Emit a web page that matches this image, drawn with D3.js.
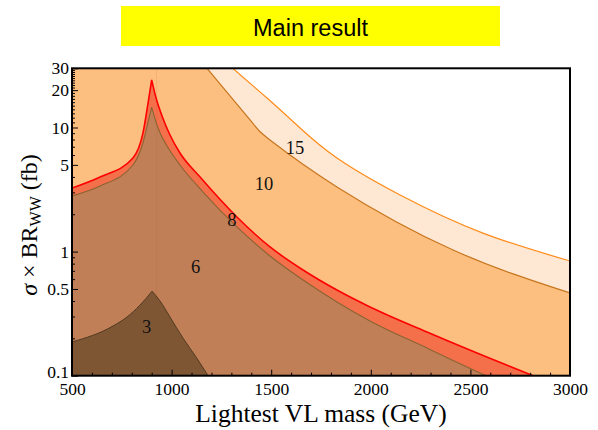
<!DOCTYPE html>
<html>
<head>
<meta charset="utf-8">
<script src="https://cdn.jsdelivr.net/npm/d3@7"></script>
<style>
  body { margin: 0; background: #fff; }
  svg { display: block; }
</style>
</head>
<body>
<div id="chart"></div>
<script>
// Curves as [mass (GeV), sigma x BR (fb)].
const curve15 = [[1200, 45], [1308, 30], [1479, 17.3], [1645, 9.91], [1830, 5.68],
                 [2147, 2.86], [2563, 1.41], [3000, 0.84]];
const curve10 = [[1100, 44], [1178, 30], [1394, 11.5], [1494, 7.93], [1830, 3.32],
                 [2413, 1.03], [3000, 0.464]];
const curve8 = [[500, 3.25], [641, 3.99], [806, 5.68], [856, 9.0], [882, 15.8], [900, 24.2],
                [922, 17.3], [952, 12.4], [992, 8.7], [1042, 6.23], [1143, 3.99], [1328, 1.9],
                [1494, 1.09], [1660, 0.711], [1830, 0.49], [1996, 0.358], [2282, 0.225],
                [2613, 0.135], [2814, 0.1]];
const curve6 = [[500, 2.81], [641, 3.38], [806, 4.99], [856, 7.5], [882, 11.1], [900, 14.6],
                [917, 11.7], [942, 9.03], [977, 7.1], [1042, 4.99], [1158, 3.02], [1328, 1.58],
                [1494, 0.922], [1660, 0.59], [1830, 0.393], [1996, 0.276], [2282, 0.167],
                [2448, 0.125], [2578, 0.1]];
const curve3 = [[500, 0.187], [706, 0.2515], [776, 0.297], [841, 0.37], [902, 0.48],
                [942, 0.4], [992, 0.297], [1057, 0.201], [1122, 0.142], [1183, 0.1]];

const bandLabels = ["15", "10", "8", "6", "3"];
const labelMass = [1620, 1464, 1303, 1120, 874];
const labelSigma = [6.1, 3.14, 1.61, 0.672, 0.221];

const xTicks = [500, 1000, 1500, 2000, 2500, 3000];
const yTicks = [0.1, 0.5, 1, 5, 10, 20, 30];
const seamMass = 925;

const width = 598, height = 430;
const plotLeft = 72, plotRight = 570, plotTop = 68.3, plotBottom = 375.7;
const serif = '"Liberation Serif", "DejaVu Serif", serif';

const x = d3.scaleLinear([500, 3000], [plotLeft, plotRight]);
const y = d3.scaleLog([0.1, 30], [plotBottom, plotTop]);

const svg = d3.select("#chart").append("svg")
    .attr("width", width)
    .attr("height", height);

// Title box
svg.append("rect")
    .attr("x", 121).attr("y", 6)
    .attr("width", 379).attr("height", 40)
    .attr("fill", "#ffff00");
svg.append("text")
    .attr("x", 310.5).attr("y", 36)
    .attr("text-anchor", "middle")
    .attr("font-family", '"Liberation Sans", Arial, sans-serif')
    .attr("font-size", 23.5)
    .text("Main result");

svg.append("defs").append("clipPath").attr("id", "plot-clip")
    .append("rect")
    .attr("x", plotLeft).attr("y", plotTop)
    .attr("width", plotRight - plotLeft).attr("height", plotBottom - plotTop);

function makeLine(curve) {
    return d3.line()
        .x(d => x(d[0]))
        .y(d => y(d[1]))
        .curve(curve);
}

// top boundary path; peaked curves are split at the maximum to keep the cusp
function edge(points, curve) {
    const line = makeLine(curve);
    let iMax = d3.maxIndex(points, d => d[1]);
    if (iMax === 0 || iMax === points.length - 1) return line(points);
    const l = line(points.slice(0, iMax + 1));
    const r = line(points.slice(iMax)).replace(/^M[^LC]*/, "");
    return l + r;
}

function areaPath(d) {
    const points = d.pts;
    const first = points[0], last = points[points.length - 1];
    let p = "";
    if (first[0] > 500) {
        p = `M${x(500)},${plotTop - 40}L` + edge(points, d.curve).slice(1);
    } else {
        p = edge(points, d.curve);
    }
    return p + `L${x(last[0])},${plotBottom + 5}L${x(500)},${plotBottom + 5}Z`;
}

const layers = [
    { pts: curve15, curve: d3.curveNatural, fill: "#fee8d3", stroke: "#ff8c1a", sw: 1.2 },
    { pts: curve10, curve: d3.curveNatural, fill: "#fdbf7f", stroke: "#c8761e", sw: 1.2 },
    { pts: curve8,  curve: d3.curveMonotoneX, fill: "#f4704b", stroke: "#ff0000", sw: 1.6 },
    { pts: curve6,  curve: d3.curveMonotoneX, fill: "#c17f57", stroke: "#8a6432", sw: 1.1 },
    { pts: curve3,  curve: d3.curveMonotoneX, fill: "#7f5634", stroke: "#4f3a22", sw: 1.0 }
];

const plot = svg.append("g").attr("clip-path", "url(#plot-clip)");

plot.selectAll("path.band")
    .data(layers)
    .join("path")
    .attr("class", "band")
    .attr("d", d => areaPath(d))
    .attr("fill", d => d.fill)
    .attr("stroke", "none");

plot.append("line")
    .attr("x1", x(seamMass)).attr("x2", x(seamMass))
    .attr("y1", plotTop).attr("y2", plotBottom)
    .attr("stroke", "#a0522d")
    .attr("stroke-opacity", 0.12)
    .attr("stroke-width", 1);

plot.selectAll("path.edge")
    .data(layers)
    .join("path")
    .attr("class", "edge")
    .attr("d", d => edge(d.pts, d.curve))
    .attr("fill", "none")
    .attr("stroke", d => d.stroke)
    .attr("stroke-width", d => d.sw);

// band labels
svg.append("g")
    .selectAll("text")
    .data(bandLabels)
    .join("text")
    .attr("x", (d, i) => x(labelMass[i]))
    .attr("y", (d, i) => y(labelSigma[i]))
    .attr("text-anchor", "middle")
    .attr("font-family", serif)
    .attr("font-size", 18.5)
    .attr("fill", "#111")
    .text(d => d);

// axes (ticks point inward)
const xMinor = d3.range(600, 3000, 100).filter(v => v % 500 !== 0);
const yMinor = [0.2, 0.3, 0.4, 0.6, 0.7, 0.8, 0.9, 2, 3, 4, 6, 7, 8, 9]
    .concat(d3.range(11, 30).filter(v => v !== 20));

svg.append("g")
    .attr("transform", `translate(0,${plotBottom})`)
    .call(d3.axisBottom(x).tickValues(xTicks).tickSize(-6).tickPadding(7).tickFormat(d3.format("d")));
svg.append("g")
    .attr("transform", `translate(0,${plotBottom})`)
    .call(d3.axisBottom(x).tickValues(xMinor).tickSize(-3).tickFormat(""));

const yAxis = svg.append("g")
    .attr("transform", `translate(${plotLeft},0)`)
    .call(d3.axisLeft(y).tickValues(yTicks).tickSize(-6).tickPadding(3).tickFormat(d3.format("~g")));
svg.append("g")
    .attr("transform", `translate(${plotLeft},0)`)
    .call(d3.axisLeft(y).tickValues(yMinor).tickSize(-3).tickFormat(""));

svg.selectAll(".domain").remove();
svg.selectAll(".tick line").attr("stroke", "#000").attr("stroke-width", 1);
svg.selectAll(".tick text")
    .attr("font-family", serif)
    .attr("font-size", 17.5)
    .attr("fill", "#000");
// lowest y label sits just above the "500" label
yAxis.selectAll(".tick text").filter(d => d === 0.1).attr("dy", "0.1em");

// frame
svg.append("rect")
    .attr("x", plotLeft).attr("y", plotTop)
    .attr("width", plotRight - plotLeft).attr("height", plotBottom - plotTop)
    .attr("fill", "none")
    .attr("stroke", "#000")
    .attr("stroke-width", 2);

// axis titles
svg.append("text")
    .attr("x", 321).attr("y", 422)
    .attr("text-anchor", "middle")
    .attr("font-family", serif)
    .attr("font-size", 25.5)
    .text("Lightest VL mass (GeV)");

const yTitle = svg.append("text")
    .attr("transform", "translate(37,225) rotate(-90)")
    .attr("text-anchor", "middle")
    .attr("font-family", serif)
    .attr("font-size", 24);
yTitle.append("tspan").attr("font-style", "italic").text("σ");
yTitle.append("tspan").text(" × BR");
yTitle.append("tspan").attr("font-size", 16).attr("dy", 4).text("WW");
yTitle.append("tspan").attr("dy", -4).text(" (fb)");
</script>
</body>
</html>
